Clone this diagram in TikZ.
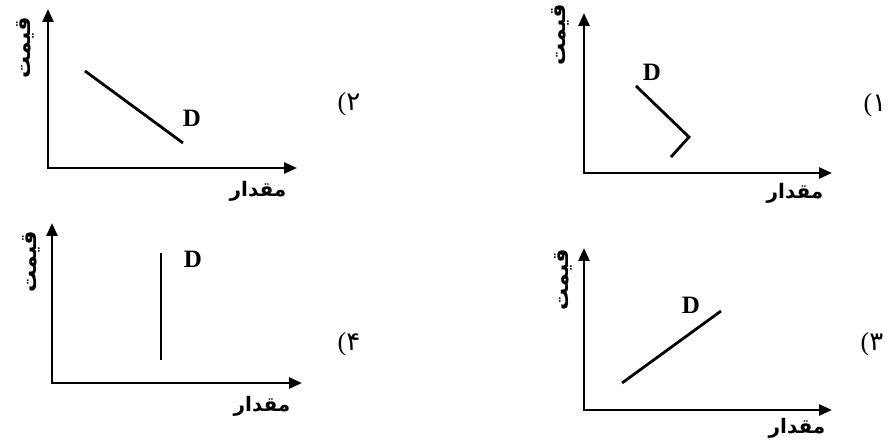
\documentclass[tikz,border=0pt]{standalone}
\usepackage{fontspec}
\setmainfont{Liberation Serif}
\newfontfamily\fa[Script=Arabic]{DejaVu Sans}
\TeXXeTstate=1
\usetikzlibrary{arrows.meta}
\begin{document}
\begin{tikzpicture}[x=1pt,y=-1pt,
  axis/.style={line width=2.6pt,{Triangle[length=13pt,width=11pt]}-{Triangle[length=13pt,width=11pt]}},
  dline/.style={line width=2.8pt},
  dlab/.style={font=\fontsize{25}{25}\selectfont\bfseries},
  xlab/.style={font=\fontsize{20}{20}\fa\bfseries},
  ylab/.style={font=\fontsize{22}{22}\fa\bfseries, rotate=90, inner sep=0pt},
  numlab/.style={font=\fontsize{26}{26}\selectfont}]
\useasboundingbox (0,0) rectangle (889,446);
\fill[white] (0,0) rectangle (889,446);
% ---------- panel 2 (top-left)
\coordinate (o2) at (48,168);
\coordinate (y2) at (48,9);
\coordinate (x2) at (297,168);
\draw[axis] (y2) -- (o2) -- (x2);
\coordinate (d2a) at (85,71);
\coordinate (d2b) at (183,143);
\draw[dline] (d2a) -- (d2b);
\node[dlab] (D2) at (192,118) {D};
\node[xlab] (q2) at (258,191) {\beginR مقدار\endR};
\node[ylab] (p2) at (25,48) {\beginR قیمت\endR};
\node[numlab] (n2) at (349,104) {(\fa ۲};
% ---------- panel 1 (top-right)
\coordinate (o1) at (584,173);
\coordinate (y1) at (584,13);
\coordinate (x1) at (832,173);
\draw[axis] (y1) -- (o1) -- (x1);
\coordinate (d1a) at (636,86);
\coordinate (d1b) at (689,137);
\coordinate (d1c) at (671,157);
\draw[dline] (d1a) -- (d1b) -- (d1c);
\node[dlab] (D1) at (652,72) {D};
\node[xlab] (q1) at (795,193) {\beginR مقدار\endR};
\node[ylab] (p1) at (560,35) {\beginR قیمت\endR};
\node[numlab] (n1) at (875,105) {(\fa ۱};
% ---------- panel 4 (bottom-left)
\coordinate (o4) at (52,383);
\coordinate (y4) at (52,223);
\coordinate (x4) at (302,383);
\draw[axis] (y4) -- (o4) -- (x4);
\coordinate (d4a) at (161,253);
\coordinate (d4b) at (161,360);
\draw[dline] (d4a) -- (d4b);
\node[dlab] (D4) at (193,259) {D};
\node[xlab] (q4) at (262,406) {\beginR مقدار\endR};
\node[ylab] (p4) at (31,262) {\beginR قیمت\endR};
\node[numlab] (n4) at (349,344) {(\fa ۴};
% ---------- panel 3 (bottom-right)
\coordinate (o3) at (584,410);
\coordinate (y3) at (584,248);
\coordinate (x3) at (832,410);
\draw[axis] (y3) -- (o3) -- (x3);
\coordinate (d3a) at (622,383);
\coordinate (d3b) at (721,311);
\draw[dline] (d3a) -- (d3b);
\node[dlab] (D3) at (691,305) {D};
\node[xlab] (q3) at (797,428) {\beginR مقدار\endR};
\node[ylab] (p3) at (563,280) {\beginR قیمت\endR};
\node[numlab] (n3) at (872,344) {(\fa ۳};
\end{tikzpicture}
\end{document}
